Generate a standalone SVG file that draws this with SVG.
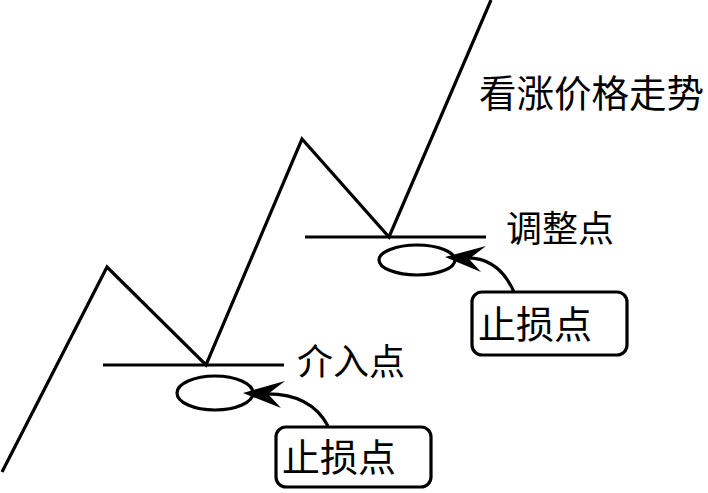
<svg xmlns="http://www.w3.org/2000/svg" width="708" height="493" viewBox="0 0 708 493">
<style>
.ln{fill:none;stroke:#000;stroke-width:3.2}
.t{font-family:"Noto Sans CJK SC","Noto Sans",sans-serif;font-size:36px;fill:#000}
.box{fill:#fff;stroke:#000;stroke-width:3.2}
</style>
<rect width="708" height="493" fill="#fff"/>
<g id="trend">
<polyline class="ln" points="2,472 107,267 206,365 302,139 389,237 491,0"/>
<line class="ln" x1="103" y1="365" x2="284" y2="365"/>
<line class="ln" x1="305" y1="237" x2="486" y2="237"/>
</g>
<g id="stop1-ellipse"><ellipse class="ln" cx="215" cy="393" rx="38" ry="17"/></g>
<g id="stop2-ellipse"><ellipse class="ln" cx="417" cy="260" rx="38" ry="15"/></g>
<g id="connectors">
<path d="M328,426 Q310,392 262,394" class="ln" stroke-width="3.5"/>
<path d="M243,393 L285,381 L268,394 L281,408 Z" fill="#000"/>
<path d="M514,292 Q498,256 464,258" class="ln" stroke-width="3.5"/>
<path d="M445,257 L486,246 L469,259 L481,272 Z" fill="#000"/>
</g>
<g id="label-trend"><text class="t" x="479" y="107" style="font-size:37.5px">看涨价格走势</text></g>
<g id="label-adjust"><text class="t" x="506" y="242">调整点</text></g>
<g id="label-entry"><text class="t" x="297" y="375">介入点</text></g>
<g id="box1">
<rect class="box" x="276" y="427" width="155" height="60" rx="10"/>
<text class="t" x="282" y="471" style="font-size:38px">止损点</text>
</g>
<g id="box2">
<rect class="box" x="472" y="292" width="155" height="63" rx="10"/>
<text class="t" x="478" y="338" style="font-size:38px">止损点</text>
</g>
</svg>
